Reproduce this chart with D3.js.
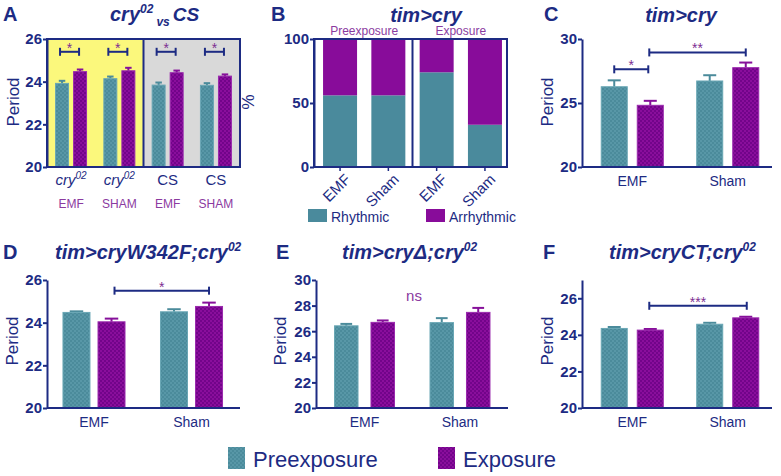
<!DOCTYPE html>
<html><head><meta charset="utf-8">
<script src="https://cdn.jsdelivr.net/npm/d3@7"></script>
<style>body{margin:0;background:#fff} svg{display:block;font-family:"Liberation Sans",Arial,sans-serif}</style>
</head><body><svg id="c" width="781" height="476"></svg>
<script>
// ---------- data ----------
const seriesKeys = ["Preexposure", "Exposure"];
// Panel A
const aGenotype = ["cry02", "cry02", "CS", "CS"];
const aTreatment = ["EMF", "SHAM", "EMF", "SHAM"];
const aPre = [23.92, 24.14, 23.84, 23.83];
const aPreErr = [0.12, 0.1, 0.12, 0.1];
const aExp = [24.47, 24.51, 24.42, 24.26];
const aExpErr = [0.1, 0.14, 0.1, 0.08];
const aTicks = [20, 22, 24, 26];
// Panel B
const bPhase = ["Preexposure", "Exposure"];
const bCats = ["EMF", "Sham", "EMF", "Sham"];
const bRhythmic = [56, 56, 74, 33];
const bArrhythmic = [44, 44, 26, 67];
const bTicks = [0, 50, 100];
// Panels C-F
const treatCats = ["EMF", "Sham"];
const cPre = [26.27, 26.72], cPreErr = [0.5, 0.45], cExp = [24.82, 27.76], cExpErr = [0.35, 0.4];
const cTicks = [20, 25, 30];
const dPre = [24.48, 24.51], dPreErr = [0.05, 0.12], dExp = [24.04, 24.76], dExpErr = [0.15, 0.18];
const dTicks = [20, 22, 24, 26];
const ePre = [26.42, 26.67], ePreErr = [0.15, 0.35], eExp = [26.69, 27.47], eExpErr = [0.15, 0.35];
const eTicks = [20, 22, 24, 26, 28, 30];
const fPre = [24.35, 24.58], fPreErr = [0.08, 0.08], fExp = [24.26, 24.93], fExpErr = [0.06, 0.06];
const fTicks = [20, 22, 24, 26];

// ---------- style ----------
const NAVY = "#1d2b83", PTXT = "#8b3a9f", STAR = "#7d2d92";
const svg = d3.select("#c");
const defs = svg.append("defs");
function checker(id, base, alt) {
  const p = defs.append("pattern").attr("id", id).attr("width", 4).attr("height", 4).attr("patternUnits", "userSpaceOnUse");
  p.append("rect").attr("width", 4).attr("height", 4).attr("fill", base);
  p.append("rect").attr("width", 2).attr("height", 2).attr("fill", alt);
  p.append("rect").attr("x", 2).attr("y", 2).attr("width", 2).attr("height", 2).attr("fill", alt);
}
checker("pTeal", "#4b8b9b", "#5897a7");
checker("pMag", "#8a0e9c", "#72048a");
const fillOf = k => k === "Preexposure" ? "url(#pTeal)" : "url(#pMag)";
const strokeOf = k => k === "Preexposure" ? "#6aa7b5" : "#9a2aad";
const errOf = k => k === "Preexposure" ? "#4b8b9b" : "#86109a";

function styleAxis(sel) {
  sel.selectAll("path,line").attr("stroke", NAVY).attr("stroke-width", 2);
  sel.selectAll("text").attr("fill", NAVY).attr("font-size", 15).attr("font-weight", "bold")
    .attr("font-family", "'Liberation Sans',Arial,sans-serif");
}

function letter(txt, x, y) {
  svg.append("text").attr("x", x).attr("y", y).text(txt).attr("font-size", 20)
    .attr("font-weight", "bold").attr("fill", NAVY);
}
function title(parts, x, y, anchor) {
  const t = svg.append("text").attr("x", x).attr("y", y).attr("font-size", 20).attr("font-weight", "bold")
    .attr("font-style", "italic").attr("fill", NAVY).attr("text-anchor", anchor || "middle");
  parts.forEach(p => {
    const s = t.append("tspan").text(p.t);
    if (p.sup) s.attr("font-size", 12).attr("dy", -8);
    if (p.down) s.attr("dy", p.down);
    if (p.size) s.attr("font-size", p.size);
    if (p.dx) s.attr("dx", p.dx);
  });
}
function yTitle(txt, x, y, rot) {
  svg.append("text").attr("transform", `translate(${x},${y}) rotate(${rot})`).attr("text-anchor", "middle")
    .attr("font-size", 17).attr("fill", NAVY).text(txt);
}
function bracket(g, xa, xb, yy, label) {
  g.append("line").attr("x1", xa).attr("x2", xb).attr("y1", yy).attr("y2", yy).attr("stroke", NAVY).attr("stroke-width", 2);
  [xa, xb].forEach(xx => g.append("line").attr("x1", xx).attr("x2", xx).attr("y1", yy - 4).attr("y2", yy + 4)
    .attr("stroke", NAVY).attr("stroke-width", 2));
  g.append("text").attr("x", (xa + xb) / 2).attr("y", yy + 1).attr("text-anchor", "middle")
    .attr("font-size", 14).attr("fill", STAR).text(label);
}

function periodPanel(cfg) {
  const g = svg.append("g");
  const y = d3.scaleLinear().domain(cfg.domain).range([cfg.yBot, cfg.yTop]);
  const x0 = d3.scaleBand().domain(d3.range(cfg.n)).range(cfg.band).paddingInner(cfg.pi).paddingOuter(cfg.po);
  const x1 = d3.scaleBand().domain(seriesKeys).range([0, x0.bandwidth()]).paddingInner(cfg.ii);
  if (cfg.bg) cfg.bg(g, x0, y);
  const data = [];
  for (let i = 0; i < cfg.n; i++) {
    data.push({ i, k: "Preexposure", v: cfg.pre[i], e: cfg.preErr[i] });
    data.push({ i, k: "Exposure", v: cfg.exp[i], e: cfg.expErr[i] });
  }
  const cx = d => x0(d.i) + x1(d.k) + x1.bandwidth() / 2;
  g.selectAll(".err").data(data).join("line").attr("x1", cx).attr("x2", cx)
    .attr("y1", d => y(d.v)).attr("y2", d => y(d.v + d.e)).attr("stroke", d => errOf(d.k)).attr("stroke-width", 2);
  g.selectAll(".cap").data(data).join("line").attr("x1", d => cx(d) - x1.bandwidth() * 0.25).attr("x2", d => cx(d) + x1.bandwidth() * 0.25)
    .attr("y1", d => y(d.v + d.e)).attr("y2", d => y(d.v + d.e)).attr("stroke", d => errOf(d.k)).attr("stroke-width", 2);
  g.selectAll(".bar").data(data).join("rect")
    .attr("x", d => x0(d.i) + x1(d.k)).attr("width", x1.bandwidth())
    .attr("y", d => y(d.v)).attr("height", d => y(cfg.domain[0]) - y(d.v))
    .attr("fill", d => fillOf(d.k)).attr("stroke", d => strokeOf(d.k)).attr("stroke-width", 1);
  const ya = g.append("g").attr("transform", `translate(${cfg.axisX},0)`)
    .call(d3.axisLeft(y).tickValues(cfg.ticks).tickSize(4).tickSizeOuter(0).tickPadding(1).tickFormat(d3.format("d")));
  styleAxis(ya);
  g.append("line").attr("x1", cfg.axisX).attr("x2", cfg.axisEnd).attr("y1", cfg.yBot).attr("y2", cfg.yBot)
    .attr("stroke", NAVY).attr("stroke-width", 2);
  if (cfg.cats) {
    const xa = g.append("g").attr("transform", `translate(0,${cfg.yBot})`)
      .call(d3.axisBottom(x0).tickSize(0).tickPadding(9).tickFormat(i => cfg.cats[i]));
    xa.select(".domain").remove();
    xa.selectAll("text").attr("fill", NAVY).attr("font-size", 14).attr("font-family", "'Liberation Sans',Arial,sans-serif");
  }
  return { g, x0, x1, y, cx };
}

// ---------- Panel A ----------
const A = periodPanel({
  n: 4, domain: [20, 26], yTop: 39, yBot: 167, band: [47, 240], pi: 0.358, po: 0.177, ii: 0.28,
  axisX: 47, axisEnd: 240, ticks: aTicks, pre: aPre, preErr: aPreErr, exp: aExp, expErr: aExpErr,
  bg: (g, x0, y) => {
    const mid = (x0(1) + x0.bandwidth() + x0(2)) / 2;
    g.append("rect").attr("x", 47).attr("y", 39).attr("width", mid - 47).attr("height", 128).attr("fill", "#fbf87c");
    g.append("rect").attr("x", mid).attr("y", 39).attr("width", 240 - mid).attr("height", 128).attr("fill", "#d9d9d9");
    g.append("rect").attr("x", 47).attr("y", 39).attr("width", 193).attr("height", 128).attr("fill", "none").attr("stroke", NAVY).attr("stroke-width", 2);
    g.append("line").attr("x1", mid).attr("x2", mid).attr("y1", 39).attr("y2", 167).attr("stroke", NAVY).attr("stroke-width", 2);
  }
});
d3.range(4).forEach(i => {
  const xa = A.x0(i) + A.x1("Preexposure") + A.x1.bandwidth() / 2 - 2;
  const xb = A.x0(i) + A.x1("Exposure") + A.x1.bandwidth() / 2 - 1;
  bracket(A.g, xa, xb, A.y(25.4), "*");
  const c = A.x0(i) + A.x0.bandwidth() / 2;
  const t = svg.append("text").attr("x", c).attr("y", 185).attr("text-anchor", "middle").attr("font-size", 15).attr("fill", NAVY);
  if (aGenotype[i] === "cry02") {
    t.attr("font-style", "italic");
    t.append("tspan").text("cry");
    t.append("tspan").text("02").attr("font-size", 10).attr("dy", -6);
  } else t.text(aGenotype[i]);
  svg.append("text").attr("x", c).attr("y", 208).attr("text-anchor", "middle").attr("font-size", 12).attr("fill", PTXT).text(aTreatment[i]);
});
letter("A", 3, 21);
title([{ t: "cry" }, { t: "02", sup: true }, { t: "vs", size: 12, down: 13, dx: 3 }, { t: "CS", size: 19, down: -5, dx: 3 }], 110, 21, "start");
yTitle("Period", 19, 102, -90);
yTitle("%", 242, 102, 90);

// ---------- Panel B ----------
(function () {
  const g = svg.append("g");
  const y = d3.scaleLinear().domain([0, 100]).range([167, 39]);
  const x = d3.scaleBand().domain(d3.range(4)).range([316, 509]).paddingInner(0.296).paddingOuter(0.146);
  const rows = bRhythmic.map((r, i) => ({ i, Rhythmic: r, Arrhythmic: bArrhythmic[i] }));
  const stack = d3.stack().keys(["Rhythmic", "Arrhythmic"])(rows);
  const col = { Rhythmic: "#4a8a9c", Arrhythmic: "#880c9a" };
  g.selectAll(".s").data(stack).join("g").attr("fill", d => col[d.key])
    .selectAll("rect").data(d => d).join("rect")
    .attr("x", d => x(d.data.i)).attr("width", x.bandwidth())
    .attr("y", d => y(d[1])).attr("height", d => y(d[0]) - y(d[1]));
  g.append("rect").attr("x", 314).attr("y", 39).attr("width", 193).attr("height", 128).attr("fill", "none").attr("stroke", NAVY).attr("stroke-width", 2);
  const mid = (x(1) + x.bandwidth() + x(2)) / 2;
  g.append("line").attr("x1", mid).attr("x2", mid).attr("y1", 39).attr("y2", 167).attr("stroke", NAVY).attr("stroke-width", 2);
  const ya = g.append("g").attr("transform", "translate(314,0)")
    .call(d3.axisLeft(y).tickValues(bTicks).tickSize(4).tickSizeOuter(0).tickPadding(1));
  styleAxis(ya);
  const xa = g.append("g").attr("transform", "translate(0,167)").call(d3.axisBottom(x).tickSize(4).tickSizeOuter(0).tickFormat(i => bCats[i]));
  xa.select(".domain").remove();
  xa.selectAll("line").attr("stroke", NAVY).attr("stroke-width", 1.5);
  xa.selectAll("text").attr("fill", NAVY).attr("font-size", 15).attr("font-family", "'Liberation Sans',Arial,sans-serif")
    .attr("text-anchor", "end").attr("transform", "translate(5,7) rotate(-45)").attr("dy", "0.6em").attr("y", 0);
  const phaseX = [(x(0) + x(1) + x.bandwidth()) / 2, (x(2) + x(3) + x.bandwidth()) / 2];
  bPhase.forEach((p, j) => svg.append("text").attr("x", phaseX[j]).attr("y", 35).attr("text-anchor", "middle")
    .attr("font-size", 12).attr("fill", PTXT).text(p));
  const lg = [{ k: "Rhythmic", x: 308 }, { k: "Arrhythmic", x: 426 }];
  lg.forEach(l => {
    svg.append("rect").attr("x", l.x).attr("y", 209).attr("width", 19).attr("height", 13).attr("fill", col[l.k]);
    svg.append("text").attr("x", l.x + 23).attr("y", 222).attr("font-size", 14).attr("fill", NAVY).text(l.k);
  });
})();
letter("B", 271, 21);
title([{ t: "tim>cry" }], 426, 22);

// ---------- Panel C ----------
const C = periodPanel({
  n: 2, domain: [20, 30], yTop: 39, yBot: 167, band: [585, 775], pi: 0.35, po: 0.17, ii: 0.278,
  axisX: 582, axisEnd: 772, ticks: cTicks, pre: cPre, preErr: cPreErr, exp: cExp, expErr: cExpErr, cats: treatCats
});
bracket(C.g, C.x0(0) + C.x1("Preexposure") + C.x1.bandwidth() / 2, C.x0(0) + C.x1("Exposure") + C.x1.bandwidth() / 2 - 2, C.y(27.63), "*");
bracket(C.g, C.x0(0) + C.x1("Exposure") + C.x1.bandwidth() / 2 - 1, C.x0(1) + C.x1("Exposure") + C.x1.bandwidth() / 2, C.y(28.95), "**");
letter("C", 544, 21);
title([{ t: "tim>cry" }], 681, 22);
yTitle("Period", 553, 102, -90);

// ---------- Panel D ----------
const D = periodPanel({
  n: 2, domain: [20, 26], yTop: 280, yBot: 408, band: [46.4, 239.1], pi: 0.364, po: 0.17, ii: 0.23,
  axisX: 47, axisEnd: 240, ticks: dTicks, pre: dPre, preErr: dPreErr, exp: dExp, expErr: dExpErr, cats: treatCats
});
bracket(D.g, D.x0(0) + D.x1("Exposure") + D.x1.bandwidth() / 2 + 3, D.x0(1) + D.x1("Exposure") + D.x1.bandwidth() / 2, D.y(25.5), "*");
letter("D", 3, 259);
title([{ t: "tim>cryW342F;cry" }, { t: "02", sup: true }], 55, 259, "start");
yTitle("Period", 18, 341, -90);

// ---------- Panel E ----------
const E = periodPanel({
  n: 2, domain: [20, 30], yTop: 280, yBot: 408, band: [318.3, 506.2], pi: 0.372, po: 0.17, ii: 0.356,
  axisX: 316, axisEnd: 508, ticks: eTicks, pre: ePre, preErr: ePreErr, exp: eExp, expErr: eExpErr, cats: treatCats
});
svg.append("text").attr("x", 414).attr("y", 301).attr("text-anchor", "middle").attr("font-size", 15).attr("fill", PTXT).text("ns");
letter("E", 276, 259);
title([{ t: "tim>cry\u0394;cry" }, { t: "02", sup: true }], 342, 259, "start");
yTitle("Period", 286, 341, -90);

// ---------- Panel F ----------
const F = periodPanel({
  n: 2, domain: [20, 27], yTop: 280, yBot: 408, band: [585, 775], pi: 0.35, po: 0.17, ii: 0.278,
  axisX: 582, axisEnd: 772, ticks: fTicks, pre: fPre, preErr: fPreErr, exp: fExp, expErr: fExpErr, cats: treatCats
});
bracket(F.g, F.x0(0) + F.x1("Exposure") + F.x1.bandwidth() / 2 - 1, F.x0(1) + F.x1("Exposure") + F.x1.bandwidth() / 2 + 1, F.y(25.59), "***");
letter("F", 543, 259);
title([{ t: "tim>cryCT;cry" }, { t: "02", sup: true }], 609, 259, "start");
yTitle("Period", 553, 341, -90);

// ---------- bottom legend ----------
const legendX = [228, 438];
seriesKeys.forEach((k, j) => {
  svg.append("rect").attr("x", legendX[j]).attr("y", 447).attr("width", 17).attr("height", 22).attr("fill", fillOf(k));
  svg.append("text").attr("x", legendX[j] + 25).attr("y", 467).attr("font-size", 22).attr("fill", NAVY).text(k);
});
</script></body></html>
